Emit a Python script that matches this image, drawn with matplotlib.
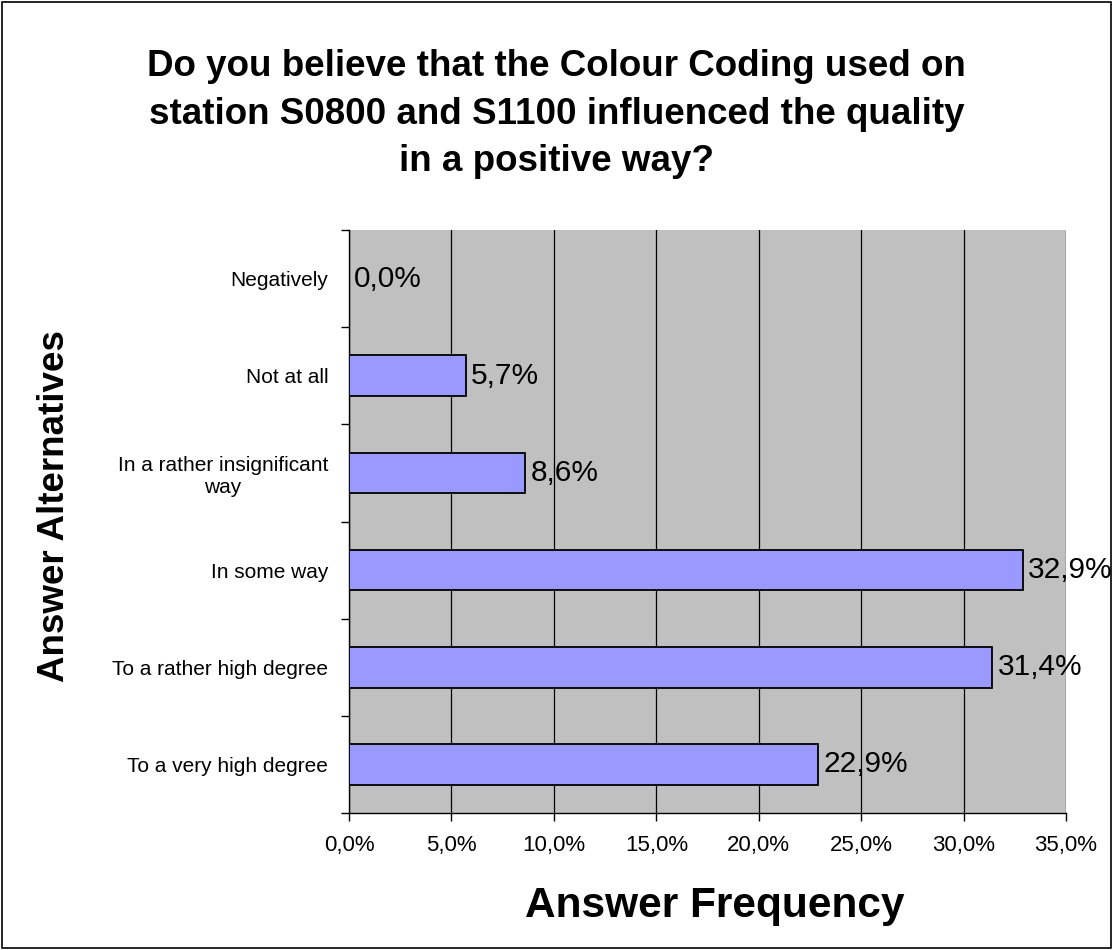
import numpy as np
import matplotlib
matplotlib.use('Agg')
import matplotlib.pyplot as plt
from matplotlib.ticker import FuncFormatter, MultipleLocator
from matplotlib.patches import Rectangle

plt.rcParams['font.family'] = ['Liberation Sans', 'DejaVu Sans']

categories = ['To a very high degree', 'To a rather high degree', 'In some way',
              'In a rather insignificant\nway', 'Not at all', 'Negatively']
values = [22.9, 31.4, 32.9, 8.6, 5.7, 0.0]

fig = plt.figure(figsize=(11.13, 9.5), dpi=100)
ax = fig.add_axes([0.3136, 0.1442, 0.6442, 0.6137])
ax.set_facecolor('#C0C0C0')

ypos = np.arange(len(categories))
ax.barh(ypos, values, height=0.42, color='#9999FF', edgecolor='black', linewidth=1.3, zorder=3)

for y, v in zip(ypos, values):
    ax.text(v + 0.25, y, ('%.1f%%' % v).replace('.', ','), va='center', ha='left',
            fontsize=21.5, zorder=4)

ax.set_xlim(0, 35)
ax.set_ylim(-0.5, len(categories) - 0.5)
ax.xaxis.set_major_locator(MultipleLocator(5))
ax.xaxis.set_major_formatter(FuncFormatter(lambda x, p: ('%.1f%%' % x).replace('.', ',')))
ax.grid(axis='x', color='black', linewidth=0.9, zorder=1)

ax.set_yticks(ypos)
ax.set_yticklabels(categories, multialignment='center')
ax.set_yticks(np.arange(-0.5, len(categories)), minor=True)
ax.tick_params(axis='y', which='major', length=0, pad=15, labelsize=15)
ax.tick_params(axis='y', which='minor', length=6, width=1)
ax.tick_params(axis='x', length=6, width=1, labelsize=16, pad=10)

for s in ['top', 'right']:
    ax.spines[s].set_visible(False)
for s in ['left', 'bottom']:
    ax.spines[s].set_linewidth(1)

fig.text(715 / 1113, 1 - 917 / 950, 'Answer Frequency', ha='center', va='baseline',
         fontsize=30.5, fontweight='bold')
fig.text(55 / 1113, 1 - 506 / 950, 'Answer Alternatives', ha='center', va='center',
         rotation=90, fontsize=26.5, fontweight='bold')

fig.text(0.5, 0.948, 'Do you believe that the Colour Coding used on\nstation S0800 and S1100 influenced the quality\nin a positive way?',
         ha='center', va='top', fontsize=26.5, fontweight='bold', linespacing=1.45)

fig.patches.append(Rectangle((0.002, 0.002), 0.996, 0.996, transform=fig.transFigure,
                             fill=False, edgecolor='black', linewidth=1.2))

fig.savefig('out.png', dpi=100)
